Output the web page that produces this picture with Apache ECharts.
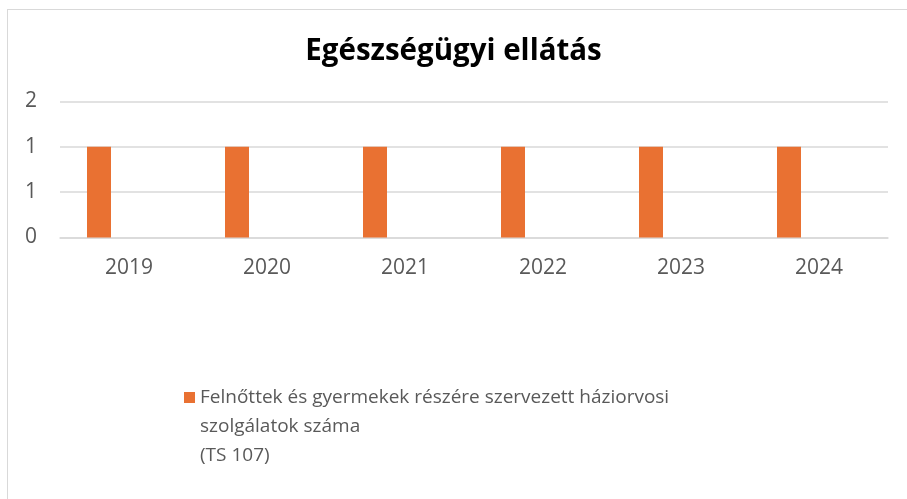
<!DOCTYPE html>
<html>
<head>
<meta charset="utf-8">
<script src="https://cdn.jsdelivr.net/npm/echarts@6/dist/echarts.min.js"></script>
<style>
  html, body { margin: 0; padding: 0; background: #fff; overflow: hidden; }
  #frame { position: absolute; left: 7px; top: 9px; width: 1000px; height: 600px;
           border-left: 1.5px solid #d9d9d9; border-top: 1.5px solid #d9d9d9; }
  #chart { position: absolute; left: 0; top: 0; width: 907px; height: 499px; }
</style>
</head>
<body>
<div id="frame"></div>
<div id="chart"></div>
<script>
// data
var years = ['2019', '2020', '2021', '2022', '2023', '2024'];
var doctorServices = [1, 1, 1, 1, 1, 1];
var emptySeries = [null, null, null, null, null, null];
var seriesName = 'Felnőttek és gyermekek részére szervezett háziorvosi\nszolgálatok száma\n(TS 107)';

var myChart = echarts.init(document.getElementById('chart'));

var labelColor = '#595959';
var font = 'Open Sans';

var option = {
    animation: false,
    title: {
        text: 'Egészségügyi ellátás',
        left: 'center',
        top: 32,
        textStyle: { fontFamily: font, fontWeight: 'bold', fontSize: 29.5, color: '#000' }
    },
    grid: { left: 60, right: 19, top: 101.5, height: 136 },
    legend: {
        left: 184,
        top: 383,
        padding: 0,
        data: [seriesName],
        itemWidth: 11,
        itemHeight: 69,
        // square sits at the top of the tall icon box so it lines up with the first text line
        icon: 'path://M0,0L11,0L11,11L0,11Z M0,69L0.01,69',
        textStyle: { fontFamily: font, fontSize: 19, color: labelColor, lineHeight: 29 }
    },
    xAxis: {
        type: 'category',
        data: years,
        axisLine: { show: true, lineStyle: { color: '#d9d9d9', width: 1.5 } },
        axisTick: { show: false },
        axisLabel: { fontFamily: font, fontSize: 21, color: labelColor, margin: 20 }
    },
    yAxis: {
        type: 'value',
        min: 0,
        max: 1.5,
        interval: 0.5,
        axisLine: { show: false },
        axisTick: { show: false },
        splitLine: { lineStyle: { color: '#d9d9d9', width: 1.5 } },
        axisLabel: {
            fontFamily: font, fontSize: 21, color: labelColor, margin: 23,
            formatter: function (v) { return String(Math.round(v)); }
        }
    },
    series: [
        {
            name: seriesName,
            type: 'bar',
            data: doctorServices,
            barWidth: 24,
            barGap: '150%',
            itemStyle: { color: '#E97132' }
        },
        {
            name: 'empty',
            type: 'bar',
            data: emptySeries,
            barWidth: 24
        }
    ]
};

myChart.setOption(option);
</script>
</body>
</html>
